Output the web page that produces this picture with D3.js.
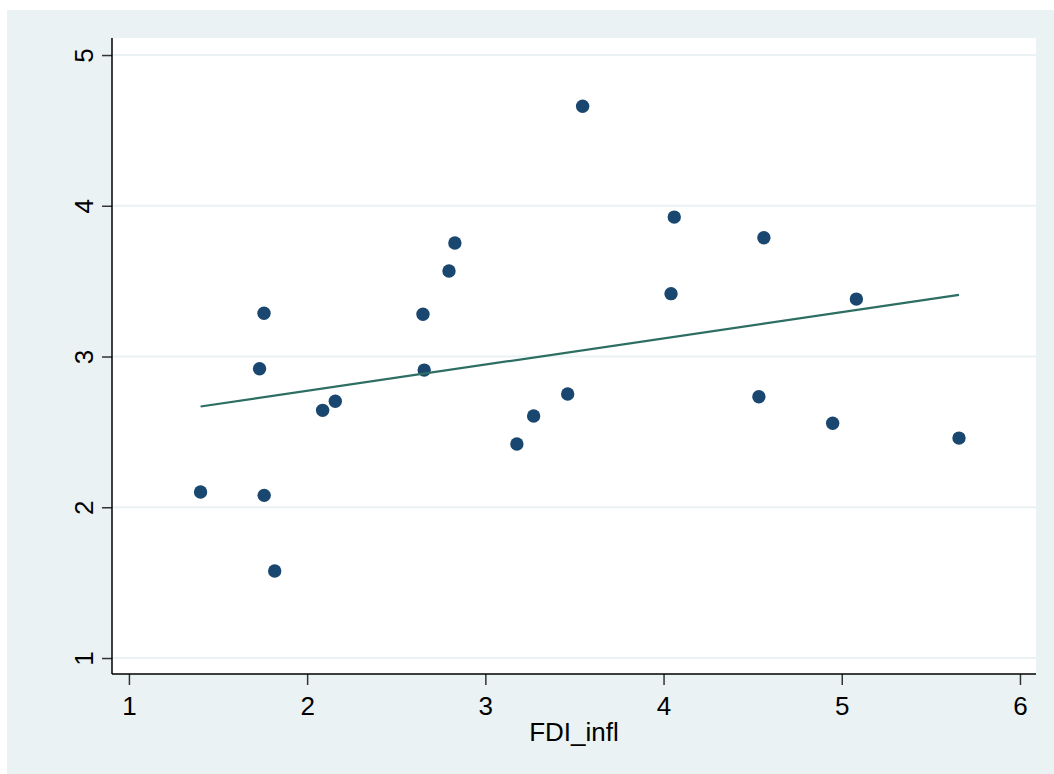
<!DOCTYPE html>
<html>
<head>
<meta charset="utf-8">
<script src="https://cdn.jsdelivr.net/npm/d3@7"></script>
<style>
  html, body { margin: 0; padding: 0; background: #ffffff; }
  svg { display: block; }
  text { font-family: "Liberation Sans", Arial, sans-serif; fill: #000; }
</style>
</head>
<body>
<script>
// FDI_infl against the outcome, with a linear fit
const fdiInfl = [1.402, 1.733, 1.758, 1.759, 1.818, 2.087, 2.158, 2.650, 2.657, 2.796, 2.829,
                 3.177, 3.271, 3.462, 3.546, 4.042, 4.060, 4.535, 4.563, 4.949, 5.082, 5.658];
const outcome = [2.101, 2.919, 3.287, 2.079, 1.577, 2.643, 2.703, 3.280, 2.910, 3.567, 3.753,
                 2.420, 2.605, 2.751, 4.660, 3.417, 3.925, 2.733, 3.788, 2.557, 3.381, 2.459];
const xTicks = [1, 2, 3, 4, 5, 6];
const yTicks = [1, 2, 3, 4, 5];
const xTitle = "FDI_infl";

const W = 1054, H = 774;
const plot = { left: 112, right: 1036, top: 38, bottom: 674 };

const svg = d3.select("body").append("svg").attr("width", W).attr("height", H);

// graph region background
svg.append("rect").attr("x", 7).attr("y", 10).attr("width", W - 7).attr("height", H - 10)
  .attr("fill", "#eaf2f3");
// plot region
svg.append("rect").attr("x", plot.left).attr("y", plot.top)
  .attr("width", plot.right - plot.left).attr("height", plot.bottom - plot.top)
  .attr("fill", "#ffffff");

const x = d3.scaleLinear().domain([0.905, 6.09]).range([plot.left, plot.right]);
const y = d3.scaleLinear().domain([0.894, 5.113]).range([plot.bottom, plot.top]);

// horizontal grid lines
svg.append("g").selectAll("line").data(yTicks).join("line")
  .attr("x1", plot.left).attr("x2", plot.right)
  .attr("y1", d => y(d)).attr("y2", d => y(d))
  .attr("stroke", "#eaf2f3").attr("stroke-width", 2);

// y axis
const yAxis = svg.append("g").attr("transform", `translate(${plot.left},0)`)
  .call(d3.axisLeft(y).tickValues(yTicks).tickFormat(d3.format("d")).tickSize(10).tickPadding(10));
yAxis.select(".domain").remove();
yAxis.selectAll(".tick line").attr("stroke", "#333").attr("stroke-width", 1.5);
yAxis.selectAll(".tick text")
  .attr("font-size", 26).attr("text-anchor", "middle")
  .attr("x", null).attr("dy", null)
  .attr("transform", "translate(-19,0) rotate(-90)")
  .attr("dy", "-0.01em").attr("y", 0);
yAxis.append("line").attr("x1", 0).attr("x2", 0).attr("y1", plot.top).attr("y2", plot.bottom)
  .attr("stroke", "#000").attr("stroke-width", 1.5);

// x axis
const xAxis = svg.append("g").attr("transform", `translate(0,${plot.bottom})`)
  .call(d3.axisBottom(x).tickValues(xTicks).tickFormat(d3.format("d")).tickSize(11).tickPadding(4));
xAxis.select(".domain").remove();
xAxis.selectAll(".tick line").attr("stroke", "#333").attr("stroke-width", 1.5);
xAxis.selectAll(".tick text").attr("font-size", 26).attr("dy", null).attr("y", 41);
xAxis.append("line").attr("x1", plot.left).attr("x2", plot.right).attr("y1", 0).attr("y2", 0)
  .attr("stroke", "#000").attr("stroke-width", 1.5);

// x axis title
svg.append("text").attr("x", (plot.left + plot.right) / 2).attr("y", 741)
  .attr("text-anchor", "middle").attr("font-size", 26).text(xTitle);

// scatter points
const pts = fdiInfl.map((v, i) => ({ x: v, y: outcome[i] }));
svg.append("g").selectAll("circle").data(pts).join("circle")
  .attr("cx", d => x(d.x)).attr("cy", d => y(d.y)).attr("r", 6.7)
  .attr("fill", "#1a476f");

// least-squares fit over the observed range
const mx = d3.mean(fdiInfl), my = d3.mean(outcome);
const sxy = d3.sum(pts, d => (d.x - mx) * (d.y - my));
const sxx = d3.sum(pts, d => (d.x - mx) * (d.x - mx));
const slope = sxy / sxx, intercept = my - slope * mx;
const [xmin, xmax] = d3.extent(fdiInfl);
const fit = [xmin, xmax].map(v => ({ x: v, y: intercept + slope * v }));
svg.append("path").datum(fit)
  .attr("d", d3.line().x(d => x(d.x)).y(d => y(d.y)))
  .attr("fill", "none").attr("stroke", "#2d6e63").attr("stroke-width", 2.2);
</script>
</body>
</html>
